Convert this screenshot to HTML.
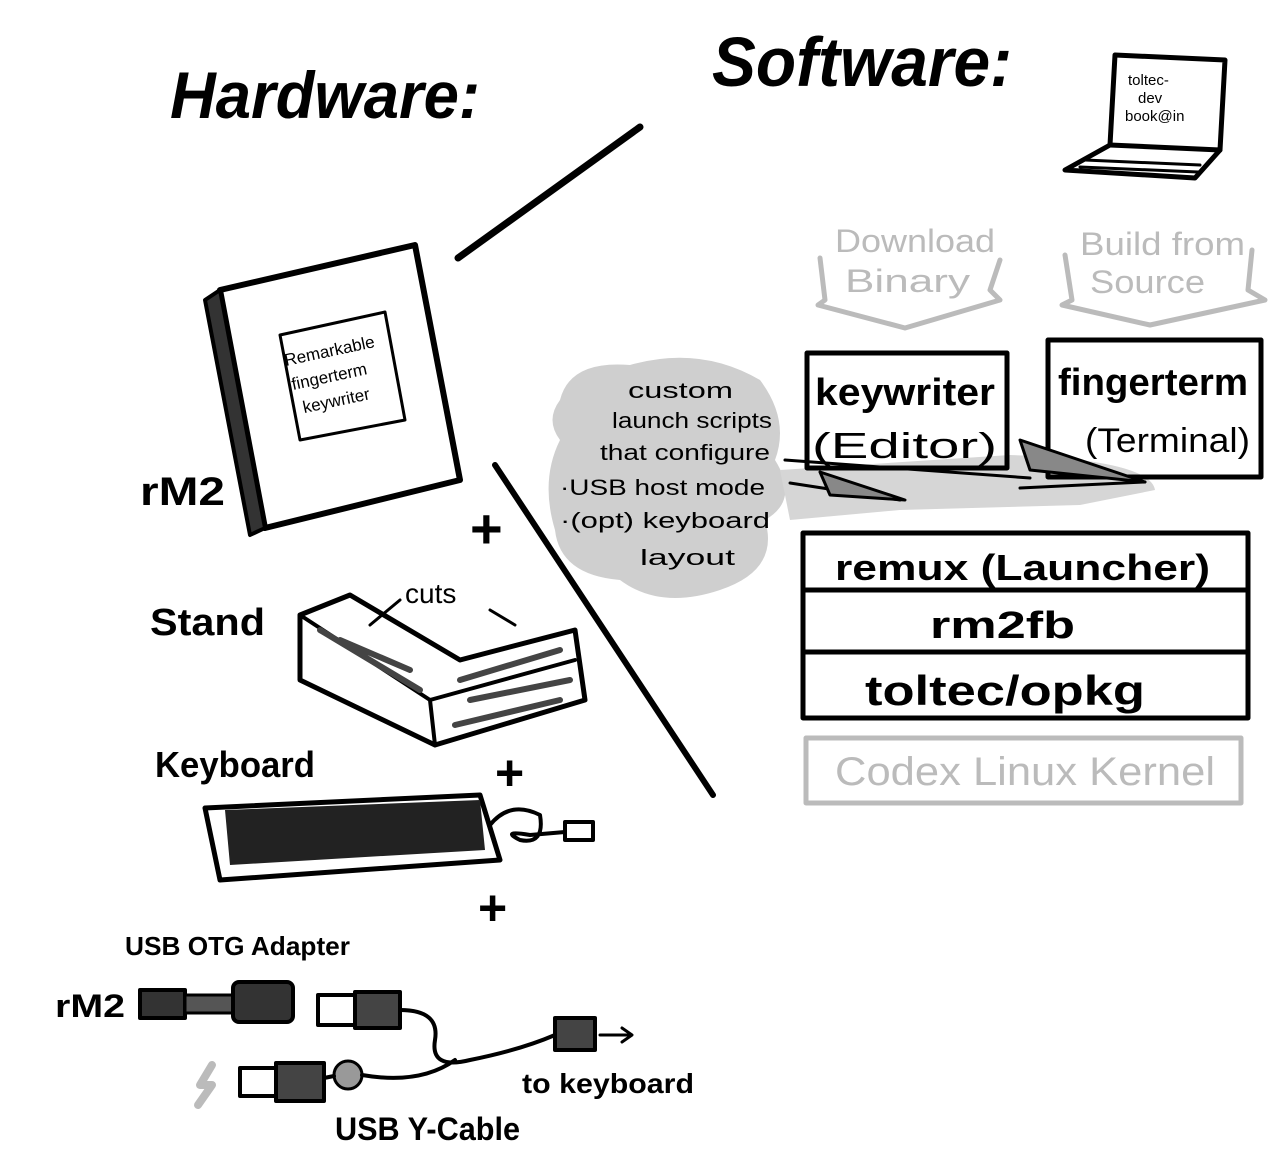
<!DOCTYPE html>
<html><head><meta charset="utf-8"><style>
html,body{margin:0;padding:0;background:#fff;width:1287px;height:1175px;overflow:hidden}
svg{display:block}
text{font-family:"Liberation Sans",sans-serif;}
</style></head><body>
<svg width="1287" height="1175" viewBox="0 0 1287 1175" xmlns="http://www.w3.org/2000/svg">
<g fill="none" stroke="#000" stroke-linecap="round" stroke-linejoin="round">
<!-- grey cloud (behind) -->
<path d="M560 400 Q570 360 630 365 Q700 345 760 380 Q790 420 775 460 Q800 500 765 520 Q780 570 720 590 Q660 610 620 580 Q560 575 555 530 Q540 480 560 440 Q545 420 560 400 Z" fill="#cfcfcf" stroke="none"/>
<path d="M780 470 L1010 455 Q1150 460 1155 490 L1080 505 L900 510 L790 520 Z" fill="#d6d6d6" stroke="none"/>

<!-- titles -->
<text x="170" y="118" font-size="66" font-weight="bold" fill="#000" stroke="none" font-style="italic" textLength="310" lengthAdjust="spacingAndGlyphs">Hardware:</text>
<text x="712" y="86" font-size="70" font-weight="bold" fill="#000" stroke="none" font-style="italic" textLength="300" lengthAdjust="spacingAndGlyphs">Software:</text>

<!-- laptop -->
<path d="M1115 55 L1225 60 L1220 150 L1110 145 Z" stroke-width="5"/>
<path d="M1110 145 L1065 170 L1195 178 L1220 150" stroke-width="5"/>
<path d="M1085 160 L1200 165 M1080 167 L1198 172" stroke-width="3"/>
<text x="1128" y="85" font-size="15" fill="#000" stroke="none">toltec-</text>
<text x="1138" y="103" font-size="15" fill="#000" stroke="none">dev</text>
<text x="1125" y="121" font-size="15" fill="#000" stroke="none">book@in</text>

<!-- diagonal dividers -->
<path d="M458 258 L640 127" stroke-width="7"/>
<path d="M495 465 L713 795" stroke-width="6"/>

<!-- download / build (grey) -->
<g stroke="#bbb" fill="#bbb">
<text x="835" y="252" font-size="32" stroke="none" textLength="160" lengthAdjust="spacingAndGlyphs">Download</text>
<text x="845" y="292" font-size="32" stroke="none" textLength="125" lengthAdjust="spacingAndGlyphs">Binary</text>
<text x="1080" y="255" font-size="32" stroke="none" textLength="165" lengthAdjust="spacingAndGlyphs">Build from</text>
<text x="1090" y="293" font-size="32" stroke="none" textLength="115" lengthAdjust="spacingAndGlyphs">Source</text>
</g>
<path d="M820 258 L825 300 L818 305 L905 328 L1000 300 L990 290 L1000 260" stroke="#bbb" stroke-width="5"/>
<path d="M1065 255 L1072 300 L1062 305 L1150 325 L1265 300 L1248 290 L1252 250" stroke="#bbb" stroke-width="5"/>

<!-- boxes -->
<rect x="807" y="353" width="200" height="115" stroke-width="5"/>
<text x="815" y="405" font-size="38" font-weight="bold" fill="#000" stroke="none" textLength="180" lengthAdjust="spacingAndGlyphs">keywriter</text>
<text x="812" y="458" font-size="36" fill="#000" stroke="none" textLength="185" lengthAdjust="spacingAndGlyphs">(Editor)</text>
<rect x="1048" y="340" width="213" height="137" stroke-width="5"/>
<text x="1058" y="395" font-size="38" font-weight="bold" fill="#000" stroke="none" textLength="190" lengthAdjust="spacingAndGlyphs">fingerterm</text>
<text x="1085" y="452" font-size="34" fill="#000" stroke="none" textLength="165" lengthAdjust="spacingAndGlyphs">(Terminal)</text>

<g fill="#000" stroke="none" font-size="22">
<text x="628" y="398" textLength="105" lengthAdjust="spacingAndGlyphs">custom</text>
<text x="612" y="428" textLength="160" lengthAdjust="spacingAndGlyphs">launch scripts</text>
<text x="600" y="460" textLength="170" lengthAdjust="spacingAndGlyphs">that configure</text>
<text x="560" y="495" textLength="205" lengthAdjust="spacingAndGlyphs">·USB host mode</text>
<text x="560" y="528" textLength="210" lengthAdjust="spacingAndGlyphs">·(opt) keyboard</text>
<text x="640" y="565" textLength="95" lengthAdjust="spacingAndGlyphs">layout</text>
</g>
<!-- arrows -->
<path d="M785 460 L1030 478 M790 483 L900 500" stroke-width="3"/>
<path d="M1020 440 L1145 482 L1030 470 Z" fill="#888" stroke-width="3"/>
<path d="M820 472 L905 500 L830 495 Z" fill="#888" stroke-width="3"/>
<path d="M1020 488 L1145 482" stroke-width="3"/>

<!-- stack -->
<rect x="803" y="533" width="445" height="185" stroke-width="5"/>
<path d="M803 590 L1248 590 M803 652 L1248 652" stroke-width="5"/>
<g fill="#000" stroke="none" font-weight="bold">
<text x="835" y="580" font-size="36" textLength="375" lengthAdjust="spacingAndGlyphs">remux (Launcher)</text>
<text x="930" y="638" font-size="38" textLength="145" lengthAdjust="spacingAndGlyphs">rm2fb</text>
<text x="865" y="705" font-size="42" textLength="280" lengthAdjust="spacingAndGlyphs">toltec/opkg</text>
</g>
<rect x="806" y="738" width="435" height="65" stroke="#bbb" stroke-width="5"/>
<text x="835" y="785" font-size="40" fill="#bbb" stroke="none" textLength="380" lengthAdjust="spacingAndGlyphs">Codex Linux Kernel</text>

<!-- rM2 tablet -->
<path d="M220 290 L415 245 L460 480 L265 528 Z" stroke-width="6"/>
<path d="M205 300 L220 290 L265 528 L250 535 Z" fill="#333" stroke-width="4"/>
<path d="M280 335 L385 312 L405 420 L300 440 Z" stroke-width="3"/>
<g fill="#000" stroke="none" font-size="17" transform="rotate(-12 340 380)">
<text x="290" y="355">Remarkable</text>
<text x="292" y="380">fingerterm</text>
<text x="298" y="405">keywriter</text>
</g>
<text x="140" y="505" font-size="40" font-weight="bold" fill="#000" stroke="none" textLength="85" lengthAdjust="spacingAndGlyphs">rM2</text>
<text x="470" y="548" font-size="56" font-weight="bold" fill="#000" stroke="none">+</text>
<text x="495" y="790" font-size="50" font-weight="bold" fill="#000" stroke="none">+</text>
<text x="478" y="925" font-size="50" font-weight="bold" fill="#000" stroke="none">+</text>

<!-- stand -->
<text x="150" y="635" font-size="38" font-weight="bold" fill="#000" stroke="none" textLength="115" lengthAdjust="spacingAndGlyphs">Stand</text>
<text x="405" y="603" font-size="28" fill="#000" stroke="none">cuts</text>
<path d="M300 615 L350 595 L460 660 L575 630 L585 700 L435 745 L300 680 Z" stroke-width="5"/>
<path d="M300 615 L430 700 L435 745 M430 700 L575 660" stroke-width="4"/>
<path d="M320 630 L420 690 M340 640 L410 670 M460 680 L560 650 M470 700 L570 680 M455 725 L560 700" stroke="#444" stroke-width="6"/>
<path d="M400 600 L370 625 M490 610 L515 625" stroke-width="3"/>

<!-- keyboard -->
<text x="155" y="777" font-size="36" font-weight="bold" fill="#000" stroke="none" textLength="160" lengthAdjust="spacingAndGlyphs">Keyboard</text>
<path d="M205 808 L480 795 L500 860 L220 880 Z" stroke-width="5"/>
<path d="M225 810 L480 800 L485 850 L230 865 Z" fill="#222" stroke="none"/>
<path d="M490 825 Q510 800 540 815 Q545 845 520 840 Q500 830 530 835 L565 832" stroke-width="4"/>
<rect x="565" y="822" width="28" height="18" stroke-width="4"/>

<!-- USB section -->
<text x="125" y="955" font-size="26" font-weight="bold" fill="#000" stroke="none" textLength="225" lengthAdjust="spacingAndGlyphs">USB OTG Adapter</text>
<text x="55" y="1017" font-size="32" font-weight="bold" fill="#000" stroke="none" textLength="70" lengthAdjust="spacingAndGlyphs">rM2</text>
<rect x="140" y="990" width="45" height="28" fill="#333" stroke-width="4"/>
<rect x="185" y="995" width="50" height="18" fill="#555" stroke-width="3"/>
<rect x="233" y="982" width="60" height="40" rx="6" fill="#333" stroke-width="4"/>
<rect x="318" y="995" width="40" height="30" stroke-width="4"/>
<rect x="355" y="992" width="45" height="36" fill="#444" stroke-width="4"/>
<path d="M400 1010 Q440 1010 435 1040 Q430 1070 470 1060 Q520 1050 555 1035" stroke-width="4"/>
<rect x="555" y="1018" width="40" height="32" fill="#444" stroke-width="4"/>
<path d="M600 1035 L630 1035 M622 1028 L632 1035 L622 1042" stroke-width="3"/>
<text x="522" y="1093" font-size="28" font-weight="bold" fill="#000" stroke="none" textLength="172" lengthAdjust="spacingAndGlyphs">to keyboard</text>
<path d="M212 1065 L200 1085 L212 1085 L198 1105" stroke="#bbb" stroke-width="8"/>
<rect x="240" y="1068" width="38" height="28" stroke-width="4"/>
<rect x="276" y="1063" width="48" height="38" fill="#444" stroke-width="4"/>
<circle cx="348" cy="1075" r="14" fill="#999" stroke-width="3"/>
<path d="M324 1078 L334 1076 M362 1075 Q420 1085 455 1060" stroke-width="4"/>
<text x="335" y="1140" font-size="32" font-weight="bold" fill="#000" stroke="none" textLength="185" lengthAdjust="spacingAndGlyphs">USB Y-Cable</text>
</g>
</svg>
</body></html>
